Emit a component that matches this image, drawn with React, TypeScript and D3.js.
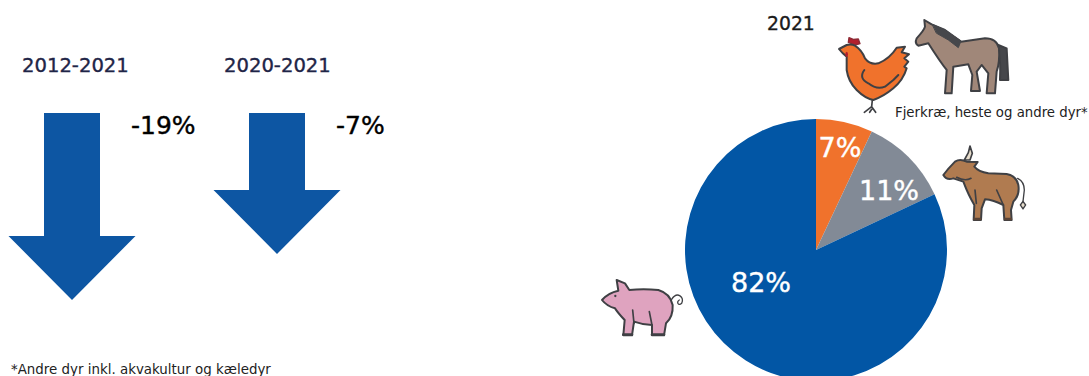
import React from "react";
import * as d3 from "d3";

// Change in consumption per period
const periods = ["2012-2021", "2020-2021"];
const changes = [-19, -7];

// Share per animal group in 2021, clockwise from twelve o'clock
const groups = ["Fjerkræ, heste og andre dyr", "Kvæg", "Svin"];
const shares = [7, 11, 82];
const shareColors = ["#f0722c", "#828a96", "#0256a5"];
const shareLabelOffsets: [number, number][] = [[24, -103], [73, -60], [-55, 32]];

const FONT = "'DejaVu Sans', sans-serif";
const W = 1089;
const H = 376;
const PIE = { cx: 816, cy: 250, r: 131 };
const INK = "#3f4044";

const arrowLength = d3.scaleLinear().domain([-7, -19]).range([141, 187]);
const arrowCenters = [72, 277];
const ARROW_TOP = 113;

function arrowPath(cx: number, len: number) {
  const shaft = 28;
  const head = 63.5;
  const headLen = 64;
  const top = ARROW_TOP;
  const tip = top + len;
  const neck = tip - headLen;
  return d3.line()([
    [cx - shaft, top],
    [cx + shaft, top],
    [cx + shaft, neck],
    [cx + head, neck],
    [cx, tip],
    [cx - head, neck],
    [cx - shaft, neck],
  ]) + "Z";
}

const iconStyle = {
  strokeLinejoin: "round" as const,
  strokeLinecap: "round" as const,
  strokeWidth: 6,
  stroke: INK,
  fill: "none",
};

// Icons are sketched on a 3x grid and scaled down where they are placed
function Hen() {
  return (
    <g {...iconStyle}>
      <path fill="#b21f2d" strokeWidth={4} stroke="#8e2a35" d="M40 82 L42 68 L55 73 L70 72 L75 86 L60 90 Z" />
      <path fill="#f0722c" d="M12 102 L35 90 Q48 86 60 92 Q80 105 90 130 Q105 150 130 145 Q165 130 185 98 L210 95 L200 112 L222 118 L208 130 L220 140 L208 155 L215 160 Q205 195 175 220 Q145 245 115 255 Q90 250 65 225 Q40 200 35 165 L35 125 Q22 115 12 102 Z" />
      <path d="M88 165 Q70 190 100 205 Q125 225 150 215 L175 195 L190 180" />
      <path d="M112 255 L110 275 L88 292 M110 275 L122 292 M110 283 L104 292" strokeWidth={5} />
      <ellipse cx={35} cy={118} rx={4} ry={8} fill="#b21f2d" stroke="none" />
    </g>
  );
}

function Horse() {
  return (
    <g {...iconStyle}>
      <path fill="#46474b" d="M490 90 L515 100 L520 195 L495 195 Q498 140 490 110 Z" />
      <path fill="#a08779" d="M268 15 L290 28 L330 45 L378 80 L450 70 Q485 70 492 100 Q495 140 485 170 L480 235 L455 235 L460 175 L440 150 L425 170 L435 228 L408 228 L412 180 L400 148 L355 155 L350 235 L330 235 L335 165 Q315 140 280 85 L250 92 Q238 85 245 70 Q268 45 270 35 Z" />
      <path fill="#46474b" stroke="#46474b" strokeWidth={3} d="M292 28 L330 45 L378 78 L370 98 L340 75 L305 55 Z" />
    </g>
  );
}

function Bull() {
  return (
    <g {...iconStyle}>
      <path fill="#e6dccb" d="M88 60 L100 38 L105 18 L112 40 L105 60 Z" strokeWidth={5} />
      <path d="M248 115 Q268 125 268 150 L264 185" strokeWidth={4} />
      <path d="M264 184 L272 195 L264 207 L256 195 Z" fill="#e6dccb" strokeWidth={4} />
      <path fill="#b07b50" d="M25 105 Q40 85 60 65 Q75 55 95 65 L128 66 L118 80 Q130 95 160 100 L215 102 Q245 108 250 135 Q255 165 235 185 L228 210 L230 240 L208 240 L205 195 Q175 180 150 178 L140 205 L138 240 L116 240 L118 195 Q100 165 85 125 L55 115 Q35 122 25 105 Z" />
      <path d="M120 150 L124 190 M185 150 L205 195 M65 112 Q90 125 108 115" strokeWidth={5} />
      <path d="M118 237 L136 237 M210 237 L228 237" strokeWidth={7} stroke="#5b4436" />
    </g>
  );
}

function Pig() {
  return (
    <g {...iconStyle}>
      <path d="M245 118 C262 92 285 112 275 130 C265 140 258 125 268 120" strokeWidth={4} />
      <path fill="#dfa3bf" d="M36 120 Q55 98 85 92 L80 60 L105 70 L118 90 Q160 85 205 90 Q240 100 248 135 Q250 170 228 190 L222 226 L186 226 L186 195 Q160 195 132 185 L126 226 L100 226 L104 180 Q85 160 75 145 Q50 138 36 120 Z" />
      <path d="M128 150 L132 190 M178 155 L186 195" strokeWidth={5} />
      <path d="M100 224 L126 224 M186 224 L222 224" strokeWidth={8} />
      <circle cx={76} cy={108} r={3.5} fill={INK} stroke="none" />
    </g>
  );
}

export default function App() {
  const arcs = d3.pie<number>().sort(null).value((d) => d)(shares);
  const arc = d3.arc<d3.PieArcDatum<number>>().innerRadius(0).outerRadius(PIE.r);

  return (
    <svg
      width={W}
      height={H}
      viewBox={`0 0 ${W} ${H}`}
      style={{ position: "absolute", left: 0, top: 0, display: "block", background: "#fff" }}
      fontFamily={FONT}
    >
      {periods.map((p, i) => (
        <g key={p}>
          <text x={i === 0 ? 22 : 224} y={72} fontSize={19.6} fill="#1f2547" stroke="#1f2547" strokeWidth={0.35}>{p}</text>
          <path d={arrowPath(arrowCenters[i], arrowLength(changes[i]))} fill="#0d56a3" />
          <text x={i === 0 ? 131 : 336} y={134} fontSize={25} fill="#000" stroke="#000" strokeWidth={0.4}>{changes[i]}%</text>
        </g>
      ))}

      <text x={767} y={30} fontSize={18.8} fill="#1a1a1a" stroke="#1a1a1a" strokeWidth={0.35}>2021</text>

      <g transform={`translate(${PIE.cx},${PIE.cy})`}>
        {arcs.map((a, i) => (
          <path key={groups[i]} d={arc(a) ?? ""} fill={shareColors[i]} />
        ))}
        {arcs.map((a, i) => (
          <text
            key={groups[i]}
            x={shareLabelOffsets[i][0]}
            y={shareLabelOffsets[i][1]}
            dy="0.36em"
            textAnchor="middle"
            fontSize={27}
            fill="#fff"
            stroke="#fff"
            strokeWidth={0.4}
          >
            {shares[i]}%
          </text>
        ))}
      </g>

      <text x={895} y={117} fontSize={13.3} fill="#222">Fjerkræ, heste og andre dyr*</text>
      <text x={11} y={374} fontSize={13.4} fill="#222">*Andre dyr inkl. akvakultur og kæledyr</text>

      <g transform="translate(835,15) scale(0.3333)">
        <Hen />
        <Horse />
      </g>
      <g transform="translate(935,140) scale(0.3333)">
        <Bull />
      </g>
      <g transform="translate(590,260) scale(0.3333)">
        <Pig />
      </g>
    </svg>
  );
}
